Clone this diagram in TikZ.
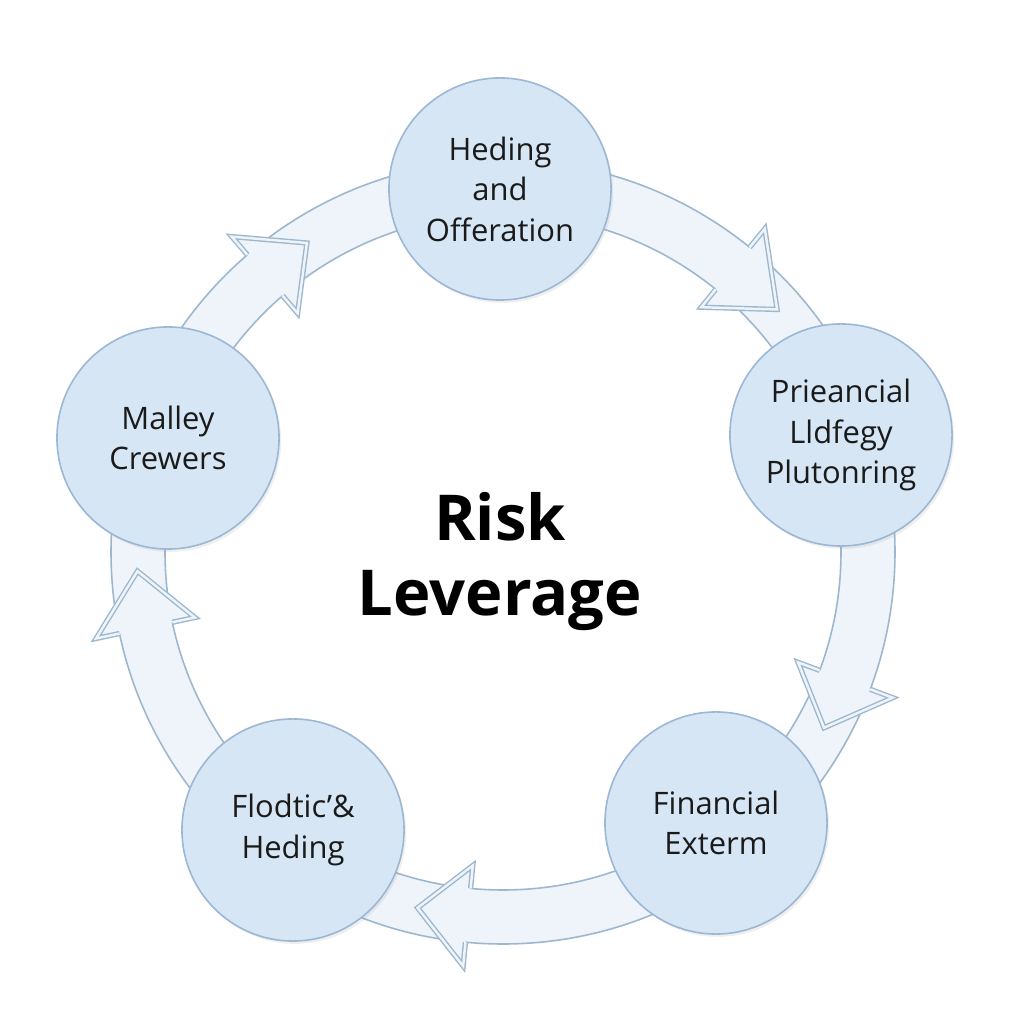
\documentclass[tikz,border=0pt]{standalone}
\usepackage{fontspec}
\setmainfont{Open Sans}
\usetikzlibrary{shadows}
\definecolor{nodefill}{HTML}{D6E6F5}
\definecolor{nodeline}{HTML}{9BB7D4}
\definecolor{bandfill}{HTML}{EEF4FA}
\definecolor{bandline}{HTML}{9DB7CF}
\definecolor{txt}{HTML}{1A1A1A}
\begin{document}
\begin{tikzpicture}[x=0.01cm,y=0.01cm,
  stage/.style={circle, minimum size=2.22cm, inner sep=0pt, fill=nodefill, draw=nodeline, line width=0.45pt, align=center, text=txt, font=\fontsize{8.8}{11.5}\selectfont, drop shadow={opacity=0.12, shadow xshift=0.6pt, shadow yshift=-0.8pt}},
  band/.style={draw=bandline, line width=0.45pt},
  headline/.style={draw=bandline, line width=0.4pt, double=bandfill, double distance=0.7pt, line join=miter},
  title/.style={font=\fontsize{18}{21.3}\selectfont\bfseries, text=black, align=center}]
\useasboundingbox (0,0) rectangle (1024,1024);
\fill[white] (0,0) rectangle (1024,1024);
\coordinate (ctr) at (503,472);
\begin{scope}[shift={(ctr)}]
 \fill[bandfill, even odd rule] (0,0) circle[radius=392] (0,0) circle[radius=338];
 \draw[band] (0,0) circle[radius=392];
 \draw[band] (0,0) circle[radius=338];
 \foreach \b/\t in {51/41.5, -20.5/-28.7, -95.5/-103.5, 192/183, 130.7/122.4} {
   \fill[bandfill] (\b:392) -- (\b:416) -- (\t:366) -- (\b:315) -- (\b:338) -- cycle;
   \draw[headline] (\b:392) -- (\b:416) -- (\t:366) -- (\b:315) -- (\b:338);
 }
\end{scope}
\node[stage] (n1) at (500,835) {Heding\\and\\Offeration};
\node[stage] (n2) at (841,589) {Prieancial\\Lldfegy\\Plutonring};
\node[stage] (n3) at (716,201) {Financial\\Exterm};
\node[stage] (n4) at (293,194) {Flodtic’\&\\Heding};
\node[stage] (n5) at (168,586) {Malley\\Crewers};
\node[title] (t) at (500,462) {Risk\\Leverage};
\end{tikzpicture}
\end{document}
